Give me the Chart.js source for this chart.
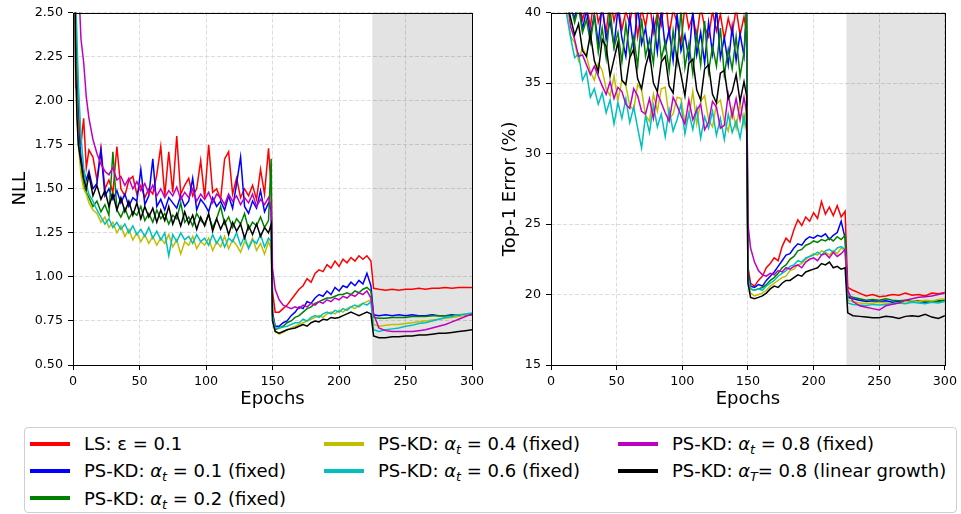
<!DOCTYPE html>
<html>
<head>
<meta charset="utf-8">
<script src="https://cdn.jsdelivr.net/npm/chart.js@4.4.1/dist/chart.umd.min.js"></script>
<style>
    body { margin: 0; width: 961px; height: 514px; background: #fff; position: relative; overflow: hidden; font-family: "DejaVu Sans", sans-serif; color: #000; }
    canvas { position: absolute; top: 0; }
    #nllChart { left: 0; }
    #errChart { left: 480px; }
    #legend { position: absolute; left: 24px; top: 427px; width: 933px; height: 86px; border: 1px solid #cfcfcf; border-radius: 4px; box-sizing: border-box; background: #fff; }
    .item { position: absolute; height: 24px; display: flex; align-items: center; font-size: 18px; white-space: nowrap; }
    .swatch { width: 40px; height: 4px; margin-right: 14px; }
    .item i { font-style: italic; }
    .item sub { font-size: 0.7em; vertical-align: -0.35em; line-height: 0; font-style: italic; }
</style>
</head>
<body>
<canvas id="nllChart" width="490" height="420"></canvas>
<canvas id="errChart" width="481" height="420"></canvas>
<div id="legend"></div>

<script>
const epochs = [
    1, 2, 3, 4, 6, 8, 10, 12, 15, 18,
    21, 24, 27, 30, 33, 36, 39, 42, 45, 48,
    51, 54, 57, 60, 63, 66, 69, 72, 75, 78,
    81, 84, 87, 90, 93, 96, 99, 102, 105, 108,
    111, 114, 117, 120, 123, 126, 129, 132, 135, 138,
    141, 144, 147, 149,
    150, 152, 155, 158, 161, 164, 167, 170, 173, 176, 179, 182, 185,
    188, 191, 194, 197, 200, 203, 206, 209, 212, 215, 218, 221, 224,
    226, 230, 235, 240, 245, 250, 255, 260, 265, 270, 275, 280, 285, 290, 295, 300
];

const labels = [
    'LS: ε = 0.1',
    'PS-KD: <i>α</i><sub>t</sub> = 0.1 (fixed)',
    'PS-KD: <i>α</i><sub>t</sub> = 0.2 (fixed)',
    'PS-KD: <i>α</i><sub>t</sub> = 0.4 (fixed)',
    'PS-KD: <i>α</i><sub>t</sub> = 0.6 (fixed)',
    'PS-KD: <i>α</i><sub>t</sub> = 0.8 (fixed)',
    'PS-KD: <i>α</i><sub>T</sub>= 0.8 (linear growth)'
];
const colors = ['#ff0000', '#0000ff', '#008000', '#bfbf00', '#00bfbf', '#bf00bf', '#000000'];

const shadeFrom = 225;
const shadeTo = 300;

// NLL (left)
const nllLS = [
    3.2, 2.07, 2.3, 1.95, 1.75, 1.9, 1.62, 1.72, 1.68, 1.55,
    1.73, 1.5, 1.55, 1.48, 1.74, 1.5, 1.46, 1.55, 1.57, 1.47,
    1.52, 1.45, 1.5, 1.47, 1.58, 1.74, 1.46, 1.71, 1.48, 1.80,
    1.47, 1.52, 1.56, 1.46, 1.5, 1.66, 1.45, 1.75, 1.48, 1.5,
    1.44, 1.67, 1.71, 1.47, 1.56, 1.45, 1.5, 1.46, 1.52, 1.44,
    1.61, 1.47, 1.73, 1.5,
    0.92, 0.8, 0.8, 0.82, 0.84, 0.87, 0.9, 0.93, 0.95, 0.99, 0.97, 1.02, 1.04,
    1.03, 1.07, 1.05, 1.09, 1.06, 1.1, 1.08, 1.11, 1.09, 1.12, 1.1, 1.12, 1.09,
    0.935, 0.93, 0.925, 0.93, 0.925, 0.93, 0.93, 0.935, 0.93, 0.935, 0.935, 0.94, 0.935, 0.94, 0.94, 0.94
];
const nllA01 = [
    2.9, 2.4, 2.1, 1.85, 1.68, 1.6, 1.55, 1.6, 1.5, 1.53,
    1.72, 1.46, 1.5, 1.44, 1.49, 1.42, 1.47, 1.4, 1.45, 1.43,
    1.61, 1.41, 1.46, 1.67, 1.4, 1.44, 1.38, 1.45, 1.42, 1.39,
    1.46, 1.4, 1.43, 1.56, 1.38, 1.44, 1.41, 1.37, 1.45, 1.4,
    1.43, 1.38, 1.46, 1.39, 1.53, 1.68, 1.4, 1.36, 1.43, 1.39,
    1.49, 1.37, 1.42, 1.38,
    0.8, 0.72, 0.72, 0.74, 0.75, 0.78, 0.8, 0.83, 0.82, 0.86, 0.85, 0.88, 0.9,
    0.89, 0.92, 0.9, 0.94, 0.92, 0.95, 0.94, 0.97, 0.95, 0.98, 0.96, 1.02, 0.95,
    0.785, 0.78, 0.785, 0.78, 0.785, 0.78, 0.785, 0.78, 0.78, 0.785, 0.78, 0.78, 0.785, 0.78, 0.785, 0.785
];
const nllA02 = [
    2.8, 2.3, 2.0, 1.8, 1.62, 1.52, 1.48, 1.45, 1.4, 1.43,
    1.37, 1.41, 1.35, 1.71, 1.38, 1.34, 1.39, 1.33, 1.37, 1.35,
    1.4, 1.32, 1.36, 1.31, 1.38, 1.33, 1.36, 1.3, 1.35, 1.33,
    1.42, 1.31, 1.34, 1.29, 1.36, 1.32, 1.3, 1.35, 1.28, 1.33,
    1.4, 1.3, 1.34, 1.28, 1.33, 1.3, 1.36, 1.27, 1.31, 1.29,
    1.34, 1.28, 1.32, 1.67,
    0.78, 0.7, 0.71, 0.72, 0.74, 0.75, 0.77, 0.78, 0.8, 0.82, 0.83, 0.85, 0.86,
    0.87, 0.88, 0.88, 0.89, 0.9, 0.9, 0.91, 0.9, 0.92, 0.91, 0.93, 0.94, 0.92,
    0.77, 0.765, 0.765, 0.77, 0.77, 0.77, 0.775, 0.775, 0.775, 0.78, 0.78, 0.78, 0.78, 0.785, 0.785, 0.785
];
const nllA04 = [
    2.7, 2.2, 1.95, 1.75, 1.58, 1.5, 1.47, 1.42, 1.38, 1.36,
    1.31, 1.34, 1.28, 1.31, 1.25, 1.29, 1.23, 1.27, 1.21, 1.25,
    1.2, 1.24, 1.19, 1.23, 1.18, 1.22, 1.19, 1.24, 1.17, 1.21,
    1.13, 1.2, 1.18, 1.23, 1.16, 1.2, 1.18, 1.22, 1.15, 1.2,
    1.17, 1.23, 1.16, 1.21, 1.18, 1.14, 1.2, 1.17, 1.22, 1.15,
    1.19, 1.13, 1.2, 1.16,
    0.76, 0.69, 0.675, 0.685, 0.7, 0.71, 0.72, 0.73, 0.74, 0.75, 0.76, 0.77, 0.78,
    0.77, 0.79, 0.8, 0.79, 0.81, 0.8, 0.82, 0.83, 0.82, 0.84, 0.85, 0.86, 0.87,
    0.73, 0.72, 0.725, 0.73, 0.73, 0.735, 0.74, 0.745, 0.75, 0.755, 0.76, 0.765, 0.77, 0.775, 0.785, 0.79
];
const nllA06 = [
    2.9, 2.6, 2.35, 2.1, 1.8, 1.62, 1.52, 1.47, 1.43, 1.38,
    1.34, 1.3, 1.33, 1.28, 1.31, 1.27, 1.3, 1.25, 1.29, 1.24,
    1.27, 1.23, 1.28, 1.22, 1.26, 1.21, 1.25, 1.12, 1.24, 1.2,
    1.25, 1.21, 1.23, 1.19, 1.24, 1.2, 1.22, 1.18, 1.24, 1.19,
    1.23, 1.17, 1.22, 1.2, 1.25, 1.18, 1.23, 1.16, 1.21, 1.19,
    1.24, 1.17, 1.22, 1.2,
    0.78, 0.71, 0.71, 0.715, 0.72, 0.73, 0.74, 0.74, 0.76, 0.75, 0.77, 0.78, 0.77,
    0.79, 0.8, 0.79, 0.81, 0.8, 0.82, 0.81, 0.83, 0.84, 0.83, 0.85, 0.84, 0.86,
    0.7, 0.69, 0.7, 0.705, 0.71, 0.72, 0.725, 0.735, 0.74, 0.75, 0.76, 0.77, 0.775, 0.785, 0.79, 0.795
];
const nllA08 = [
    3.5, 3.2, 2.95, 2.7, 2.35, 2.22, 2.02, 1.9, 1.78, 1.7,
    1.64, 1.6, 1.58, 1.62, 1.55, 1.57, 1.52, 1.56, 1.5, 1.54,
    1.49, 1.53, 1.47, 1.52, 1.46, 1.5, 1.45, 1.49, 1.46, 1.51,
    1.44, 1.48, 1.45, 1.5, 1.43, 1.47, 1.44, 1.48, 1.42, 1.47,
    1.45, 1.41, 1.47, 1.43, 1.46, 1.41, 1.45, 1.42, 1.47, 1.4,
    1.44, 1.41, 1.45, 1.4,
    1.05, 0.93, 0.87, 0.84, 0.83, 0.82, 0.83, 0.82, 0.84, 0.83, 0.85, 0.84, 0.86,
    0.85, 0.87, 0.86, 0.88, 0.87, 0.89, 0.88, 0.9, 0.89, 0.91, 0.9, 0.92, 0.88,
    0.79, 0.71, 0.695, 0.69, 0.69, 0.69, 0.69, 0.695, 0.7, 0.71, 0.72, 0.73, 0.745, 0.76, 0.775, 0.79
];
const nllLinear = [
    3.0, 2.2, 1.9, 1.75, 1.65, 1.56, 1.5, 1.58, 1.46, 1.52,
    1.44, 1.49, 1.4, 1.47, 1.38, 1.45, 1.37, 1.43, 1.35, 1.42,
    1.33, 1.4, 1.34, 1.39, 1.31, 1.38, 1.32, 1.4, 1.3, 1.36,
    1.29, 1.37, 1.3, 1.35, 1.27, 1.34, 1.29, 1.36, 1.26, 1.33,
    1.27, 1.32, 1.24, 1.31, 1.26, 1.3, 1.22, 1.29, 1.24, 1.3,
    1.23, 1.28, 1.25, 1.3,
    0.75, 0.69, 0.68, 0.69, 0.7, 0.705, 0.71, 0.72, 0.73, 0.72, 0.74, 0.75, 0.745,
    0.76, 0.755, 0.77, 0.765, 0.77, 0.78, 0.79, 0.8, 0.79, 0.78, 0.79, 0.8, 0.79,
    0.665, 0.655, 0.655, 0.66, 0.66, 0.665, 0.665, 0.67, 0.67, 0.675, 0.68, 0.68, 0.685, 0.69, 0.695, 0.7
];

// Top-1 error (right)
const errLS = [
    80, 70, 62, 57, 50, 46, 44, 42, 41, 40.5,
    41, 39.5, 40.5, 39, 41.2, 39.3, 40.2, 38.6, 41, 39.4,
    40.6, 38.8, 40.1, 39.2, 41, 38.3, 40.3, 39, 40.8, 38.6,
    40, 39.1, 41.3, 38.4, 40.2, 39.3, 37.8, 40.5, 38.9, 39.8,
    38.2, 40.4, 39, 38.3, 40.1, 38.7, 39.9, 38.1, 39.6, 38.5,
    40.3, 38.4, 39.7, 38.6,
    22, 20.8, 20.6, 21, 21.3, 21.9, 22.2, 22.6, 22.4, 23.4, 24, 23.7, 24.6,
    25.3, 24.9, 25.5, 25.2, 25.8, 25.4, 26.6, 25.7, 26.2, 25.6, 26.3, 25.5, 25.9,
    20.5, 20.3, 20.1, 19.9, 20, 19.85, 19.9, 20, 19.95, 20.1, 19.95, 20, 19.9, 20.1, 20.05, 20.15
];
const errA01 = [
    78, 68, 60, 55, 49, 45, 43, 41.5, 40.3, 39.6,
    41, 38.8, 40.2, 38.3, 39.9, 37.8, 40.6, 38.1, 39.4, 37.6,
    40.3, 38.2, 36.9, 39.7, 37.4, 40.5, 37.8, 38.9, 36.8, 39.5,
    37.2, 40.2, 37.5, 38.8, 36.6, 39.9, 37.3, 38.4, 36.7, 40.1,
    37, 38.6, 36.4, 39.3, 37.1, 40.4, 36.8, 38.2, 36.3, 39,
    36.6, 38.5, 36.9, 40.2,
    21.5, 20.6, 20.5, 20.7, 20.6, 21, 21.3, 21.6, 22, 22.4, 22.8, 22.9, 23.3,
    23.6, 23.5, 23.9, 24.1, 24, 24.2, 24.1, 24.3, 23.9, 24.2, 24.4, 25.2, 24,
    19.8, 19.7, 19.6, 19.5, 19.55, 19.5, 19.55, 19.45, 19.5, 19.55, 19.45, 19.5, 19.45, 19.5, 19.55, 19.6
];
const errA02 = [
    77, 67, 59, 54, 48, 44.5, 42.5, 41, 40.5, 39.3,
    40.4, 38.6, 39.5, 37.9, 39.8, 37.2, 38.9, 36.8, 40.3, 37.5,
    38.6, 36.5, 39.2, 37, 38.3, 36.2, 39.6, 36.9, 38.1, 36.4,
    39.8, 36.7, 37.9, 35.9, 38.7, 36.5, 40.2, 36.1, 37.8, 35.7,
    38.5, 36.3, 39.4, 35.8, 37.6, 36.2, 38.9, 35.6, 37.4, 36,
    38.3, 35.5, 37.2, 40.5,
    21.3, 20.4, 20.3, 20.4, 20.5, 20.7, 21, 21.2, 21.5, 21.9, 22.1, 22.5, 22.7,
    23.1, 23.2, 23.5, 23.6, 23.8, 23.7, 23.9, 23.8, 24, 23.8, 24.1, 23.9, 24.2,
    19.9, 19.8, 19.7, 19.6, 19.65, 19.6, 19.7, 19.6, 19.55, 19.6, 19.5, 19.55, 19.5, 19.55, 19.5, 19.6
];
const errA04 = [
    75, 65, 57, 52, 46.5, 43.5, 41.5, 40, 38.3, 37.9,
    36.6, 37.5, 36.9, 35.8, 35.2, 36.4, 35.9, 34.6, 34.1, 35.5,
    33.8, 35.2, 34.8, 33.4, 33.1, 34.9, 34.5, 32.7, 32.3, 34.2,
    33, 34.6, 34.7, 32.5, 32.8, 34, 33.9, 32.2, 32.6, 34.4,
    32.1, 33.7, 34.1, 32.4, 31.9, 33.5, 33.8, 32.3, 31.6, 33.2,
    31.8, 33.6, 32, 33.4,
    21, 20.1, 19.9, 20, 20.1, 20.3, 20.6, 20.8, 21, 21.2, 21.3, 21.7, 21.8,
    22.1, 22.2, 22.5, 22.7, 22.9, 22.8, 23.1, 23, 22.8, 23.1, 22.9, 23.3, 23.1,
    19.6, 19.5, 19.4, 19.35, 19.4, 19.45, 19.4, 19.35, 19.4, 19.5, 19.45, 19.5, 19.6, 19.55, 19.65, 19.7
];
const errA06 = [
    74, 64, 56, 51, 46, 43, 41, 39.8, 38.2, 36.8,
    37.1, 35.2, 35.8, 34, 34.6, 33.5, 34.3, 32.9, 33.8, 32.1,
    33.6, 32.5, 33.9, 32.2, 33.3, 31.8, 30.4, 32.7, 31.5, 33.4,
    31.9, 32.8, 31.2, 33.1, 31.6, 32.4, 33.5, 31.4, 32.9, 31.7,
    33.2, 31.1, 32.6, 31.8, 33, 31.3, 32.5, 31, 32.8, 31.5,
    32.3, 31.1, 32.7, 31.6,
    21.2, 20.4, 20.3, 20.4, 20.3, 20.6, 20.8, 21, 21.3, 21.5, 21.7, 22, 22.1,
    22.4, 22.3, 22.6, 22.7, 22.8, 23, 22.8, 23.1, 23.2, 23, 23.3, 23.4, 23.2,
    19.4, 19.3, 19.25, 19.2, 19.3, 19.25, 19.3, 19.35, 19.4, 19.35, 19.45, 19.4, 19.35, 19.45, 19.4, 19.5
];
const errA08 = [
    79, 69, 61, 56, 49.5, 45.5, 43, 41, 39, 38.1,
    36.9, 37, 36.3, 35.6, 36.2, 35.5, 34.8, 34.2, 35.1, 33.9,
    34.7, 34.4, 33.5, 33.2, 34.6, 34.1, 33, 32.8, 33.9, 32.5,
    34.3, 33.6, 32.9, 32.3, 34, 33.4, 32.7, 32.1, 33.8, 32.4,
    33.1, 33.5, 31.7, 32.2, 33.7, 33.3, 31.8, 32, 34.2, 32.6,
    33.9, 32.4, 34, 32.9,
    25, 23.3, 22.3, 21.7, 21.4, 21.3, 21.5, 21.4, 21.7, 21.6, 21.9, 21.8, 22,
    22.1, 21.9, 22.3, 22.5, 22.6, 22.4, 22.8, 22.9, 22.6, 23, 22.7, 22.9, 23.2,
    20.3, 19.5, 19.2, 19.1, 19, 18.9, 19.2, 19.3, 19.4, 19.6, 19.7, 19.8, 19.85, 19.9, 20, 20.1
];
const errLinear = [
    76, 66, 58, 53, 47, 44, 42, 40.8, 39.6, 38.4,
    39.2, 37.3, 36.9, 38.5, 36.6, 35.8, 38.1, 37.6, 35.5, 36.7,
    37.9, 35.2, 34.9, 36.8, 37.4, 35.3, 34.6, 36.2, 37.2, 35,
    34.4, 36.5, 36.9, 34.8, 34.3, 37, 35.6, 34.1, 36.4, 36.7,
    34.5, 33.8, 36, 36.3, 34.2, 33.6, 35.7, 35.9, 33.9, 34.4,
    35.6, 33.7, 35.1, 34.1,
    20.8, 19.8, 19.7, 19.8, 19.9, 20.1, 20.4, 20.6, 20.5, 20.8, 21, 21, 21.2,
    21.4, 21.3, 21.6, 21.7, 21.8, 21.9, 22.2, 22.1, 22.3, 21.9, 22, 21.8, 21.9,
    18.7, 18.5, 18.45, 18.4, 18.35, 18.35, 18.45, 18.4, 18.3, 18.45, 18.5, 18.45, 18.6, 18.4, 18.3, 18.5
];

const nllSeries = [nllLS, nllA01, nllA02, nllA04, nllA06, nllA08, nllLinear];
const errSeries = [errLS, errA01, errA02, errA04, errA06, errA08, errLinear];

Chart.defaults.font.family = '"DejaVu Sans", sans-serif';
Chart.defaults.color = '#000';

// grey band for the last phase + black frame around the axes
const framePlugin = {
    id: 'frame',
    beforeDatasetsDraw(chart) {
        const { ctx, chartArea, scales } = chart;
        const x0 = scales.x.getPixelForValue(shadeFrom);
        const x1 = scales.x.getPixelForValue(shadeTo);
        ctx.save();
        ctx.fillStyle = 'rgba(0,0,0,0.11)';
        ctx.fillRect(x0, chartArea.top, x1 - x0, chartArea.bottom - chartArea.top);
        ctx.restore();
    },
    afterDatasetsDraw(chart) {
        const { ctx, chartArea } = chart;
        ctx.save();
        ctx.strokeStyle = '#000';
        ctx.lineWidth = 1;
        ctx.strokeRect(Math.round(chartArea.left) + 0.5, Math.round(chartArea.top) + 0.5,
            Math.round(chartArea.right - chartArea.left), Math.round(chartArea.bottom - chartArea.top));
        ctx.restore();
    }
};

function makeChart(id, series, yMin, yMax, yStep, yTitle, yWidth, rightPad, titlePad, fmt) {
    const datasets = series.map((vals, i) => ({
        label: labels[i].replace(/<[^>]+>/g, ''),
        data: vals.map((v, k) => ({ x: epochs[k], y: v })),
        borderColor: colors[i],
        borderWidth: 1.5,
        pointRadius: 0,
        tension: 0,
        fill: false,
        clip: 0,
        order: series.length - 1 - i
    }));

    return new Chart(document.getElementById(id), {
        type: 'line',
        data: { datasets },
        plugins: [framePlugin],
        options: {
            responsive: false,
            animation: false,
            devicePixelRatio: 1,
            layout: { padding: { top: 10, right: rightPad, left: 0, bottom: 0 } },
            plugins: { legend: { display: false }, tooltip: { enabled: false } },
            scales: {
                x: {
                    type: 'linear',
                    min: 0,
                    max: 300,
                    ticks: { stepSize: 50, font: { size: 12.7 }, color: '#000', padding: 4, maxRotation: 0 },
                    grid: { color: '#dcdcdc', tickColor: '#000', tickLength: 5, tickWidth: 1 },
                    border: { display: false, dash: [4, 2] },
                    title: { display: true, text: 'Epochs', font: { size: 18 }, color: '#000', padding: { top: 0, bottom: 9.5 } },
                    afterFit: s => { s.height = 55; }
                },
                y: {
                    min: yMin,
                    max: yMax,
                    ticks: { stepSize: yStep, font: { size: 12.7 }, color: '#000', padding: 5, callback: fmt },
                    grid: { color: '#dcdcdc', tickColor: '#000', tickLength: 5, tickWidth: 1 },
                    border: { display: false, dash: [4, 2] },
                    title: { display: true, text: yTitle, font: { size: 18 }, color: '#000', padding: { top: titlePad, bottom: 0 } },
                    afterFit: s => { s.width = yWidth; }
                }
            }
        }
    });
}

makeChart('nllChart', nllSeries, 0.5, 2.5, 0.25, 'NLL', 73, 18, 9.5, v => v.toFixed(2));
makeChart('errChart', errSeries, 15, 40, 5, 'Top-1 Error (%)', 71, 13, 19.5, v => v);

// legend: matplotlib fills it column by column (3, 2, 2 entries)
const legendDiv = document.getElementById('legend');
const colX = [30, 324, 618];
const rowY = [443.5, 470.8, 498];
const legendSlots = [[0, 0], [0, 1], [0, 2], [1, 0], [1, 1], [2, 0], [2, 1]];
labels.forEach((lab, i) => {
    const [col, row] = legendSlots[i];
    const item = document.createElement('div');
    item.className = 'item';
    item.style.left = (colX[col] - 25) + 'px';
    item.style.top = (rowY[row] - 12 - 428) + 'px';
    item.innerHTML = `<span class="swatch" style="background:${colors[i]}"></span><span>${lab}</span>`;
    legendDiv.appendChild(item);
});
</script>
</body>
</html>
